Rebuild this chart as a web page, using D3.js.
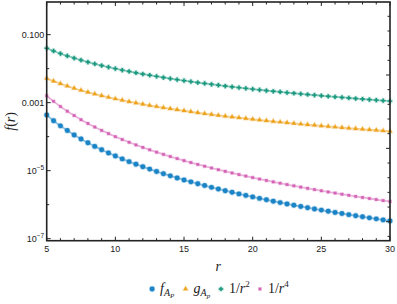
<!DOCTYPE html>
<html>
<head>
<meta charset="utf-8">
<script src="https://cdn.jsdelivr.net/npm/d3@7"></script>
<style>
  body { margin: 0; background: #fff; }
  svg { display: block; }
  .tick-label { font-family: "Liberation Sans", Arial, sans-serif; font-size: 9px; fill: #222; }
  .math { font-family: "Liberation Serif", "Times New Roman", serif; fill: #222; }
</style>
</head>
<body>
<div id="chart"></div>
<script>
// sample radii
var rValues = [5, 5.5, 6, 6.5, 7, 7.5, 8, 8.5, 9, 9.5, 10, 10.5, 11, 11.5, 12, 12.5, 13, 13.5, 14, 14.5,
  15, 15.5, 16, 16.5, 17, 17.5, 18, 18.5, 19, 19.5, 20, 20.5, 21, 21.5, 22, 22.5, 23, 23.5, 24, 24.5,
  25, 25.5, 26, 26.5, 27, 27.5, 28, 28.5, 29, 29.5, 30];

// f_{A_P}
var fAp = [4.32e-4, 2.95e-4, 2.08e-4, 1.51e-4, 1.12e-4, 8.53e-5, 6.59e-5, 5.17e-5, 4.11e-5, 3.32e-5,
  2.70e-5, 2.22e-5, 1.84e-5, 1.54e-5, 1.30e-5, 1.11e-5, 9.45e-6, 8.13e-6, 7.03e-6, 6.11e-6,
  5.33e-6, 4.68e-6, 4.12e-6, 3.64e-6, 3.23e-6, 2.88e-6, 2.57e-6, 2.31e-6, 2.07e-6, 1.87e-6,
  1.69e-6, 1.53e-6, 1.39e-6, 1.26e-6, 1.15e-6, 1.05e-6, 9.65e-7, 8.85e-7, 8.14e-7, 7.49e-7,
  6.91e-7, 6.39e-7, 5.91e-7, 5.48e-7, 5.08e-7, 4.72e-7, 4.39e-7, 4.09e-7, 3.82e-7, 3.56e-7, 3.33e-7];

// g_{A_p}
var gAp = [0.0052, 0.0043, 0.00361, 0.00308, 0.00265, 0.00231, 0.00203, 0.0018, 0.0016, 0.00144,
  0.0013, 0.00118, 0.00107, 0.000983, 0.000903, 0.000832, 0.000769, 0.000713, 0.000663, 0.000618,
  0.000578, 0.000541, 0.000508, 0.000477, 0.00045, 0.000424, 0.000401, 0.00038, 0.00036, 0.000342,
  0.000325, 0.000309, 0.000295, 0.000281, 0.000269, 0.000257, 0.000246, 0.000235, 0.000226, 0.000217,
  0.000208, 0.0002, 0.000192, 0.000185, 0.000178, 0.000172, 0.000166, 0.00016, 0.000155, 0.000149, 0.000144];

// 1/r^2
var invR2 = [0.04, 0.03306, 0.02778, 0.02367, 0.02041, 0.01778, 0.015625, 0.01384, 0.01235, 0.01108,
  0.01, 0.00907, 0.008264, 0.007561, 0.006944, 0.0064, 0.005917, 0.005487, 0.005102, 0.004756,
  0.004444, 0.004162, 0.003906, 0.003673, 0.00346, 0.003265, 0.003086, 0.002922, 0.00277, 0.00263,
  0.0025, 0.00238, 0.002268, 0.002163, 0.002066, 0.001975, 0.00189, 0.001811, 0.001736, 0.001666,
  0.0016, 0.001538, 0.001479, 0.001424, 0.001372, 0.001322, 0.001276, 0.001231, 0.001189, 0.001149, 0.001111];

// 1/r^4
var invR4 = [0.0016, 0.001093, 7.716e-4, 5.602e-4, 4.165e-4, 3.160e-4, 2.441e-4, 1.916e-4, 1.524e-4, 1.228e-4,
  1.0e-4, 8.227e-5, 6.830e-5, 5.717e-5, 4.823e-5, 4.096e-5, 3.501e-5, 3.011e-5, 2.603e-5, 2.262e-5,
  1.975e-5, 1.732e-5, 1.526e-5, 1.349e-5, 1.197e-5, 1.066e-5, 9.526e-6, 8.538e-6, 7.673e-6, 6.916e-6,
  6.25e-6, 5.662e-6, 5.142e-6, 4.680e-6, 4.269e-6, 3.901e-6, 3.574e-6, 3.279e-6, 3.014e-6, 2.775e-6,
  2.56e-6, 2.365e-6, 2.188e-6, 2.028e-6, 1.882e-6, 1.749e-6, 1.627e-6, 1.516e-6, 1.414e-6, 1.320e-6, 1.235e-6];

var xTickValues = [5, 10, 15, 20, 25, 30];
var yTickValues = [0.1, 0.001, 1e-5, 1e-7];
var yMinorValues = [0.01, 1e-4, 1e-6];

var width = 397;
var height = 304;
var margin = {left: 46.7, right: 7, top: 2, bottom: 63.3};

var series = [
  {key: "f", values: fAp, color: "#1b84c6", symbol: d3.symbolCircle, size: 19},
  {key: "g", values: gAp, color: "#eea21c", symbol: d3.symbolTriangle, size: 9},
  {key: "r2", values: invR2, color: "#17977d", symbol: d3.symbolCross, size: 10},
  {key: "r4", values: invR4, color: "#d563b6", symbol: d3.symbolSquare, size: 7}
];

var x = d3.scaleLinear()
  .domain([5, 30])
  .range([margin.left, width - margin.right]);

var y = d3.scaleLog()
  .domain([Math.pow(10, -7.06), Math.pow(10, -0.04)])
  .range([height - margin.bottom, margin.top]);

// right frame has its own evenly spaced ticks
var yRight = d3.scaleLinear()
  .domain([-1.295, 14.976])
  .range([height - margin.bottom, margin.top]);

var svg = d3.select("#chart")
  .append("svg")
  .attr("width", width)
  .attr("height", height);

// curves and points
var line = d3.line()
  .x(function(d, i) { return x(rValues[i]); })
  .y(function(d) { return y(d); })
  .curve(d3.curveMonotoneX);

series.forEach(function(s) {
  svg.append("path")
    .attr("d", line(s.values))
    .attr("fill", "none")
    .attr("stroke", s.color)
    .attr("stroke-opacity", 0.5)
    .attr("stroke-width", 1.8);

  svg.append("g").selectAll("path")
    .data(s.values)
    .enter()
    .append("path")
    .attr("transform", function(d, i) { return "translate(" + x(rValues[i]) + "," + y(d) + ")"; })
    .attr("d", d3.symbol().type(s.symbol).size(s.size))
    .attr("fill", s.color)
    .attr("stroke", s.color)
    .attr("stroke-opacity", 0.3)
    .attr("stroke-width", 1.4);
});

// frame
var frame = svg.append("g").attr("stroke", "#222").attr("fill", "none");
frame.append("rect")
  .attr("x", x.range()[0])
  .attr("y", y.range()[1])
  .attr("width", x.range()[1] - x.range()[0])
  .attr("height", y.range()[0] - y.range()[1])
  .attr("stroke-width", 1.6);

var xMinor = d3.range(5, 31, 1);

// bottom + top ticks (pointing inward)
function xTicks(y0, dir) {
  frame.selectAll(null)
    .data(xMinor)
    .enter()
    .append("line")
    .attr("x1", function(d) { return x(d); })
    .attr("x2", function(d) { return x(d); })
    .attr("y1", y0)
    .attr("y2", function(d) { return y0 + dir * (d % 5 === 0 ? 4 : 2.5); })
    .attr("stroke-width", 1);
}
xTicks(y.range()[0], -1);
xTicks(y.range()[1], 1);

// left ticks
frame.selectAll(null)
  .data(yTickValues.concat(yMinorValues))
  .enter()
  .append("line")
  .attr("x1", x.range()[0])
  .attr("x2", function(d) { return x.range()[0] + (yTickValues.indexOf(d) >= 0 ? 4 : 2.5); })
  .attr("y1", function(d) { return y(d); })
  .attr("y2", function(d) { return y(d); })
  .attr("stroke-width", 1);

// right ticks
frame.selectAll(null)
  .data(d3.range(-1, 15))
  .enter()
  .append("line")
  .attr("x1", x.range()[1])
  .attr("x2", function(d) { return x.range()[1] - (d % 5 === 0 ? 4 : 2.5); })
  .attr("y1", function(d) { return yRight(d); })
  .attr("y2", function(d) { return yRight(d); })
  .attr("stroke-width", 1);

// x tick labels
svg.selectAll(null)
  .data(xTickValues)
  .enter()
  .append("text")
  .attr("class", "tick-label")
  .attr("x", function(d) { return x(d); })
  .attr("y", y.range()[0] + 11.5)
  .attr("text-anchor", "middle")
  .text(function(d) { return d; });

// y tick labels
var yLab = svg.selectAll(null)
  .data(yTickValues)
  .enter()
  .append("text")
  .attr("class", "tick-label")
  .attr("x", x.range()[0] - 2.5)
  .attr("y", function(d) { return y(d) + 3.2; })
  .attr("text-anchor", "end");

yLab.each(function(d) {
  var t = d3.select(this);
  if (d >= 0.001) {
    t.text(d3.format(".3f")(d));
  } else {
    var e = Math.round(Math.log10(d));
    t.append("tspan").text("10");
    t.append("tspan").attr("dy", -4).attr("font-size", "6.5px").text("\u2212" + Math.abs(e));
  }
});

// axis labels
svg.append("text")
  .attr("class", "math")
  .attr("x", (x.range()[0] + x.range()[1]) / 2)
  .attr("y", 271)
  .attr("text-anchor", "middle")
  .attr("font-style", "italic")
  .attr("font-size", "14px")
  .text("r");

var yTitle = svg.append("text")
  .attr("class", "math")
  .attr("transform", "translate(15," + ((y.range()[0] + y.range()[1]) / 2) + ") rotate(-90)")
  .attr("text-anchor", "middle")
  .attr("font-size", "14px");
yTitle.append("tspan").attr("font-style", "italic").text("f");
yTitle.append("tspan").text("(");
yTitle.append("tspan").attr("font-style", "italic").text("r");
yTitle.append("tspan").text(")");

// legend
var legend = svg.append("g").attr("class", "math").attr("font-size", "14px");
var legendY = 293;
var items = [];

function addItem(s, build) {
  var g = legend.append("g");
  g.append("path")
    .attr("d", d3.symbol().type(s.symbol).size(s.size))
    .attr("fill", s.color)
    .attr("stroke", s.color)
    .attr("stroke-opacity", 0.3)
    .attr("stroke-width", 1.4)
    .attr("transform", "translate(0," + (legendY - 4) + ")");
  var t = g.append("text").attr("x", 8).attr("y", legendY);
  build(t);
  items.push(g);
}

addItem(series[0], function(t) {
  t.append("tspan").attr("font-style", "italic").text("f");
  t.append("tspan").attr("font-style", "italic").attr("font-size", "10px").attr("dy", 3).text("A");
  t.append("tspan").attr("font-style", "italic").attr("font-size", "7px").attr("dy", 1.5).text("P");
});
addItem(series[1], function(t) {
  t.append("tspan").attr("font-style", "italic").text("g");
  t.append("tspan").attr("font-style", "italic").attr("font-size", "10px").attr("dy", 3).text("A");
  t.append("tspan").attr("font-style", "italic").attr("font-size", "7px").attr("dy", 1.5).text("p");
});
addItem(series[2], function(t) {
  t.append("tspan").text("1/");
  t.append("tspan").attr("font-style", "italic").text("r");
  t.append("tspan").attr("font-size", "9px").attr("dy", -6).text("2");
});
addItem(series[3], function(t) {
  t.append("tspan").text("1/");
  t.append("tspan").attr("font-style", "italic").text("r");
  t.append("tspan").attr("font-size", "9px").attr("dy", -6).text("4");
});

// lay the legend out centered under the plot
var gap = 8;
var widths = items.map(function(g) { return g.node().getBBox().width; });
var total = d3.sum(widths) + gap * (items.length - 1);
var cx = (x.range()[0] + x.range()[1]) / 2;
var pos = cx - total / 2 + 3;
items.forEach(function(g, i) {
  g.attr("transform", "translate(" + pos + ",0)");
  pos += widths[i] + gap;
});
</script>
</body>
</html>
